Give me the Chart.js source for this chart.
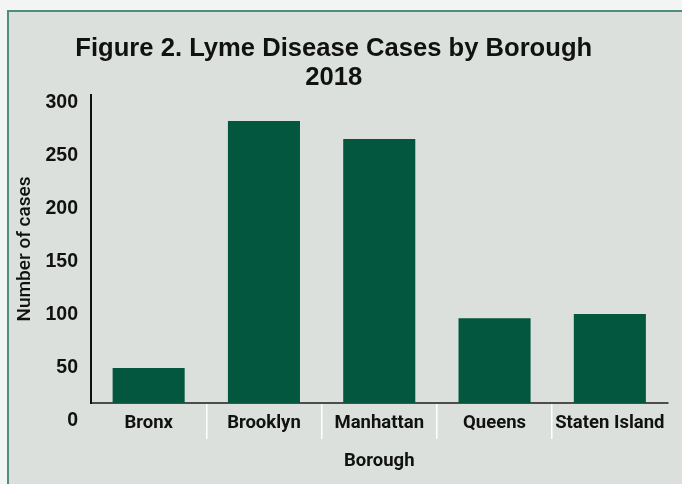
<!DOCTYPE html>
<html>
<head>
<meta charset="utf-8">
<script src="https://cdn.jsdelivr.net/npm/chart.js@4.4.1/dist/chart.umd.min.js"></script>
<style>
    html, body { margin: 0; padding: 0; }
    body { width: 682px; height: 484px; background: #f2f5f3; position: relative; overflow: hidden; }
    .card {
        position: absolute; left: 7px; top: 10px; right: 0; bottom: 0;
        background: #dbe0dc;
        border-left: 2px solid #4f8e78;
        border-top: 2px solid #4f8e78;
    }
    #chart { position: absolute; left: 0; top: 0; }
</style>
</head>
<body>
<div class="card"></div>
<canvas id="chart" width="682" height="484"></canvas>
<script>
    const boroughs = ['Bronx', 'Brooklyn', 'Manhattan', 'Queens', 'Staten Island'];
    const cases = [50, 283, 266, 97, 101];
    const yTicks = [0, 50, 100, 150, 200, 250, 300];
    const titleLines = ['Figure 2. Lyme Disease Cases by Borough', '2018'];

    const barColor = '#03573f';

    new Chart(document.getElementById('chart'), {
        type: 'bar',
        data: {
            labels: boroughs,
            datasets: [
                {
                    label: 'Number of cases',
                    data: cases,
                    backgroundColor: barColor,
                    borderWidth: 0,
                    categoryPercentage: 1,
                    barPercentage: 0.625,
                },
            ],
        },
        options: {
            responsive: false,
            animation: false,
            layout: {
                padding: { left: 0, right: 14.5, top: 0, bottom: 0 },
            },
            plugins: {
                legend: { display: false },
                tooltip: { enabled: false },
                title: {
                    display: true,
                    text: titleLines,
                    color: '#111',
                    font: { family: 'Liberation Sans', size: 25.6, weight: 'bold', lineHeight: 1.133 },
                    padding: { top: 34.5, bottom: 2.5 },
                },
            },
            scales: {
                x: {
                    afterFit: scale => { scale.height = 81; },
                    border: { display: true, color: '#4d4d4d', width: 2 },
                    grid: {
                        display: true,
                        offset: true,
                        drawOnChartArea: false,
                        drawTicks: true,
                        tickLength: 36,
                        lineWidth: 1.5,
                        color: ctx => (ctx.index > 0 ? '#ffffff' : 'transparent'),
                    },
                    ticks: {
                        color: '#111',
                        padding: -27,
                        maxRotation: 0,
                        font: { family: 'Roboto', size: 18.5, weight: 'bold' },
                    },
                    title: {
                        display: true,
                        text: 'Borough',
                        color: '#111',
                        font: { family: 'Roboto', size: 18.5, weight: 'bold' },
                        padding: { top: 0, bottom: 12 },
                    },
                },
                y: {
                    min: 17,
                    max: 307.5,
                    afterFit: scale => { scale.width = 91; },
                    afterBuildTicks: scale => {
                        scale.ticks = yTicks.map(v => ({ value: v }));
                    },
                    border: { display: true, color: '#111', width: 2 },
                    grid: { display: false, drawTicks: false },
                    ticks: {
                        color: '#111',
                        padding: 13,
                        font: { family: 'Liberation Sans', size: 19.5, weight: 'bold' },
                    },
                    title: {
                        display: true,
                        text: 'Number of cases',
                        color: '#111',
                        font: { family: 'Roboto', size: 19, weight: '500' },
                        padding: { top: 14, bottom: 8 },
                    },
                },
            },
        },
    });
</script>
</body>
</html>
